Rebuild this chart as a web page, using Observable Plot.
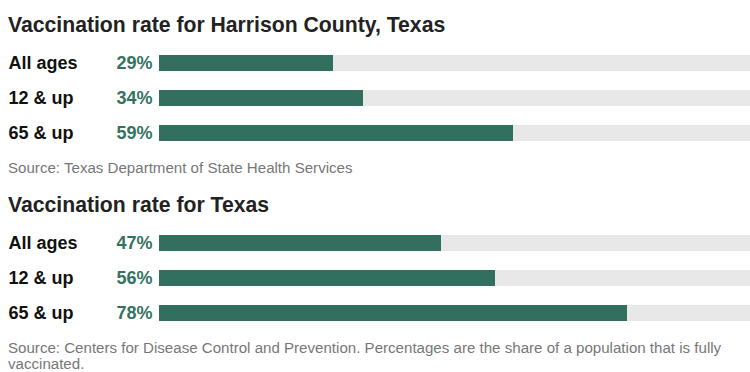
<!DOCTYPE html>
<html>
<head>
<meta charset="utf-8">
<script src="https://cdn.jsdelivr.net/npm/d3@7"></script>
<script src="https://cdn.jsdelivr.net/npm/@observablehq/plot@0.6"></script>
<style>
  body { margin: 0; background: #fff; font-family: "Liberation Sans", Arial, Helvetica, sans-serif; width: 750px; overflow: hidden; }
  .title { font-size: 21.2px; font-weight: bold; color: #222; line-height: 24px; margin: 0; padding-left: 8px; }
  .source { font-size: 15.1px; color: #777; line-height: 16px; margin: 8px 0 0 0; padding-left: 8px; width: 726px; }
  svg { display: block; }
</style>
</head>
<body>
<div id="root"></div>
<script>
const groups = ["All ages", "12 & up", "65 & up"];
const harrisonValues = [29, 34, 59];
const texasValues = [47, 56, 78];
const titles = ["Vaccination rate for Harrison County, Texas", "Vaccination rate for Texas"];
const sources = [
  "Source: Texas Department of State Health Services",
  "Source: Centers for Disease Control and Prevention. Percentages are the share of a population that is fully vaccinated."
];
const fullScale = 100;

const barColor = "#336f5e";
const labelColor = "#35735f";
const trackColor = "#e8e8e8";

function makeChart(values) {
  const data = groups.map((g, i) => ({group: g, value: values[i], full: fullScale}));
  return Plot.plot({
    width: 750,
    height: 115,
    marginLeft: 159,
    marginRight: -9,
    marginTop: 0,
    marginBottom: 0,
    style: {fontFamily: "'Liberation Sans', Arial, Helvetica, sans-serif", background: "#fff"},
    x: {domain: [0, fullScale], axis: null},
    y: {type: "band", domain: groups, range: [8.5, 113.5], paddingInner: 19 / 35, paddingOuter: 19 / 70, axis: null},
    marks: [
      Plot.barX(data, {x: "full", y: "group", fill: trackColor}),
      Plot.barX(data, {x: "value", y: "group", fill: barColor}),
      Plot.text(data, {y: "group", text: "group", frameAnchor: "left", dx: -151, textAnchor: "start", fontWeight: "bold", fontSize: 18, fill: "#111"}),
      Plot.text(data, {y: "group", text: d => d.value + "%", frameAnchor: "left", dx: -7, textAnchor: "end", fontWeight: "bold", fontSize: 18, fill: labelColor})
    ]
  });
}

const root = document.getElementById("root");
[harrisonValues, texasValues].forEach((vals, i) => {
  const h = document.createElement("h2");
  h.className = "title";
  h.textContent = titles[i];
  h.style.marginTop = i === 0 ? "13px" : "17px";
  root.appendChild(h);
  root.appendChild(makeChart(vals));
  const s = document.createElement("p");
  s.className = "source";
  s.textContent = sources[i];
  root.appendChild(s);
});
</script>
</body>
</html>
